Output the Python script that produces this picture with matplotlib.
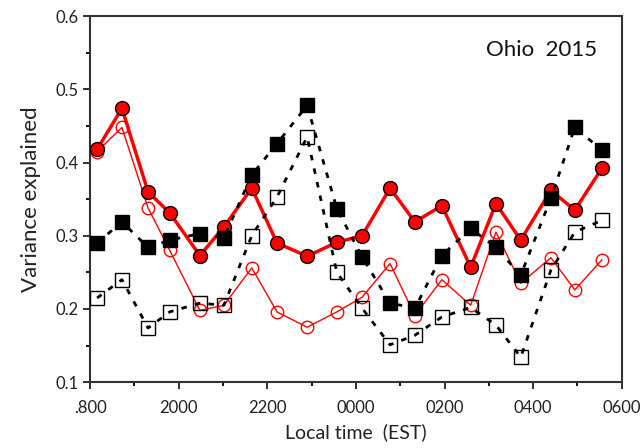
import matplotlib
matplotlib.use("Agg")
import matplotlib.pyplot as plt
from matplotlib.ticker import MultipleLocator

plt.rcParams['font.family'] = ['Lato', 'DejaVu Sans']

# hours after 1800 EST
times = [0.16, 0.72, 1.31, 1.80, 2.48, 3.02, 3.65, 4.22, 4.90, 5.57,
         6.14, 6.77, 7.33, 7.94, 8.59, 9.16, 9.72, 10.40, 10.94, 11.55]

red_filled = [0.418, 0.474, 0.360, 0.331, 0.273, 0.312, 0.365, 0.290, 0.272, 0.291,
              0.300, 0.365, 0.319, 0.341, 0.257, 0.344, 0.294, 0.362, 0.335, 0.392]
red_open = [0.415, 0.448, 0.338, 0.280, 0.198, 0.205, 0.256, 0.196, 0.175, 0.196,
            0.216, 0.262, 0.191, 0.240, 0.205, 0.305, 0.235, 0.270, 0.226, 0.267]
black_filled = [0.290, 0.319, 0.284, 0.294, 0.303, 0.297, 0.383, 0.426, 0.478, 0.337,
                0.271, 0.208, 0.201, 0.273, 0.310, 0.284, 0.246, 0.351, 0.448, 0.417]
black_open = [0.215, 0.240, 0.174, 0.196, 0.208, 0.205, 0.300, 0.353, 0.435, 0.250,
              0.201, 0.151, 0.164, 0.189, 0.202, 0.178, 0.134, 0.253, 0.305, 0.321]

tick_pos = [0, 2, 4, 6, 8, 10, 12]
tick_labels = [".800", "2000", "2200", "0000", "0200", "0400", "0600"]

fig = plt.figure(figsize=(6.43, 4.48), dpi=100)
ax = fig.add_axes([0.14, 0.147, 0.827, 0.817])

ax.plot(times, red_open, color='red', lw=1.0, marker='o', ms=9,
        mfc='none', mec='red', mew=1.0, zorder=2)
ax.plot(times, red_filled, color='red', lw=2.5, marker='o', ms=10,
        mfc='red', mec='black', mew=1.0, zorder=3)
ax.plot(times, black_open, color='black', lw=2.0, dashes=(2.0, 3.0), marker='s', ms=10,
        mfc='none', mec='black', mew=1.0, zorder=4)
ax.plot(times, black_filled, color='black', lw=2.0, dashes=(2.0, 3.0), marker='s', ms=10,
        mfc='black', mec='black', mew=1.0, zorder=5)

ax.set_xlim(0, 12)
ax.set_ylim(0.1, 0.6)
ax.set_xticks(tick_pos)
ax.set_xticklabels(tick_labels)
ax.xaxis.set_minor_locator(MultipleLocator(1))
ax.yaxis.set_major_locator(MultipleLocator(0.1))
ax.yaxis.set_minor_locator(MultipleLocator(0.05))
ax.set_yticklabels([f"{v:.1f}" for v in ax.get_yticks()])
ax.set_ylim(0.1, 0.6)
ax.tick_params(axis='both', which='major', direction='out', length=5, width=1.3,
               labelsize=12, colors='#222222')
ax.tick_params(axis='both', which='minor', direction='out', length=3, width=1.3)
ax.tick_params(axis='x', pad=8)
for s in ax.spines.values():
    s.set_linewidth(1.5)
    s.set_color('#333333')

ax.set_xlabel("Local time  (EST)", fontsize=14, color='#222222', labelpad=5)
ax.set_ylabel("Variance explained", fontsize=16, color='#222222', labelpad=10)
ax.text(0.953, 0.907, "Ohio  2015", transform=ax.transAxes, ha='right', va='center',
        fontsize=16, color='#111111')

fig.savefig("out.png", dpi=100)
